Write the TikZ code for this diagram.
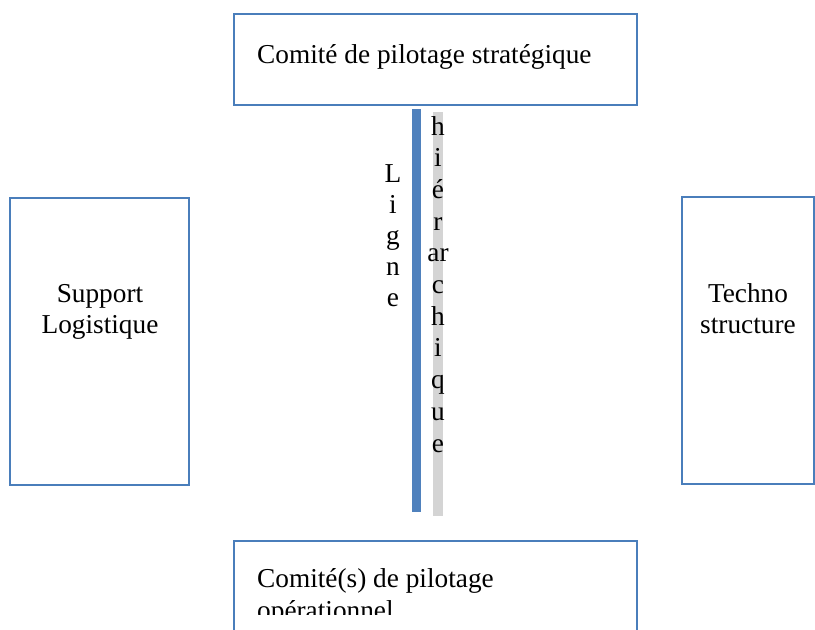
\documentclass[tikz,border=0pt]{standalone}
\usepackage{fontspec}
\setmainfont{Liberation Serif}
\definecolor{boxblue}{HTML}{4A7EBB}
\definecolor{barblue}{HTML}{4F81BD}
\definecolor{stripgray}{HTML}{D4D4D4}
\begin{document}
\begin{tikzpicture}[x=1pt,y=-1pt,
  box/.style={draw=boxblue,line width=2.2pt,fill=white,inner sep=0pt},
  txt/.style={font=\fontsize{27.3}{31}\selectfont,inner sep=0pt},
  letter/.style={font=\fontsize{27.3}{31}\selectfont,inner sep=0pt,anchor=base}]
\useasboundingbox (0,0) rectangle (815,630);
\clip (0,0) rectangle (815,630);
\fill[white] (0,0) rectangle (815,630);
% boxes
\node[box,minimum width=403pt,minimum height=91pt] (top) at (435.5,59.5) {};
\node[box,minimum width=179pt,minimum height=287pt] (left) at (99.5,341.5) {};
\node[box,minimum width=132pt,minimum height=287pt] (right) at (748,340.5) {};
\node[box,minimum width=403pt,minimum height=120pt] (bottom) at (435.5,601) {};
% texts
\node[txt,anchor=base west] (toptxt) at (257,63) {Comité de pilotage stratégique};
\node[txt,anchor=base] (lefttxt) at (100,302) {Support};
\node[txt,anchor=base] (lefttxt2) at (100,333) {Logistique};
\node[txt,anchor=base] (righttxt) at (748,302) {Techno};
\node[txt,anchor=base] (righttxt2) at (748,333) {structure};
\begin{scope}
\clip (236,543) rectangle (635,614);
\node[txt,anchor=base west] (bottxt) at (257,587) {Comité(s) de pilotage};
\node[txt,anchor=base west] (bottxt2) at (257,619) {opérationnel};
\end{scope}
% hierarchy bar and strip
\fill[barblue] (412,109) rectangle (421,512);
\fill[stripgray] (433,112) rectangle (443,516);
% Ligne
\foreach \c [count=\i from 0] in {L,i,g,n,e}
  \node[letter] (l\i) at (393,182+31*\i) {\c};
% hiérarchique
\foreach \c [count=\i from 0] in {h,i,é,r,ar,c,h,i,q,u,e}
  \node[letter] (h\i) at (438,135+31.7*\i) {\c};
\end{tikzpicture}
\end{document}
